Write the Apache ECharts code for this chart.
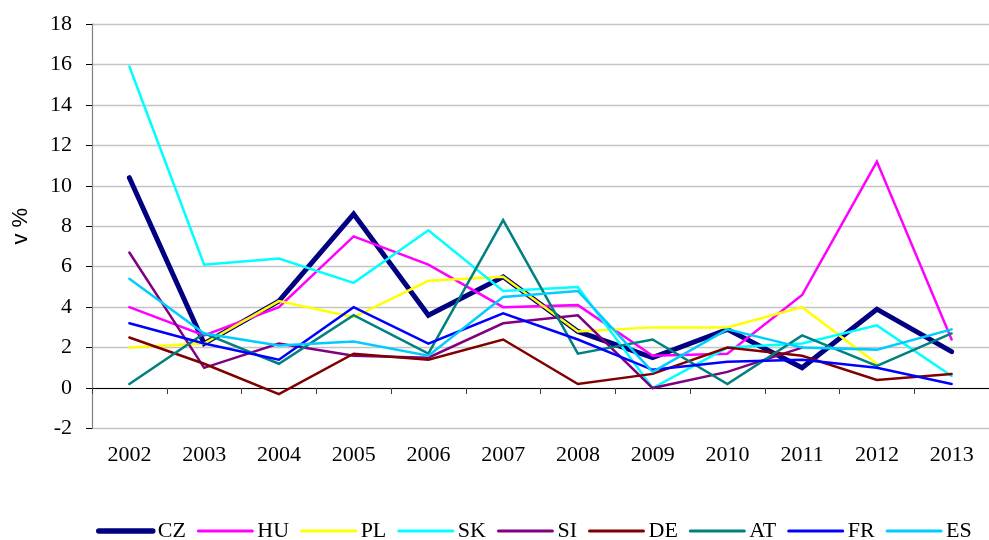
<!DOCTYPE html>
<html>
<head>
<meta charset="utf-8">
<script src="https://cdn.jsdelivr.net/npm/echarts@6/dist/echarts.min.js"></script>
<style>
  html, body { margin: 0; padding: 0; background: #fff; }
  #chart { width: 989px; height: 540px; }
</style>
</head>
<body>
<div id="chart"></div>
<script>
// Years on the category axis
const years = ['2002', '2003', '2004', '2005', '2006', '2007', '2008', '2009', '2010', '2011', '2012', '2013'];

// Annual rates per country, in %
const CZ = [10.4, 2.2, 4.3, 8.6, 3.6, 5.5, 2.8, 1.5, 2.9, 1.0, 3.9, 1.8];
const HU = [4.0, 2.6, 4.0, 7.5, 6.1, 4.0, 4.1, 1.6, 1.7, 4.6, 11.2, 2.4];
const PL = [2.0, 2.2, 4.3, 3.5, 5.3, 5.5, 2.8, 3.0, 3.0, 4.0, 1.2, null];
const SK = [15.9, 6.1, 6.4, 5.2, 7.8, 4.8, 5.0, 0.0, 2.0, 2.2, 3.1, 0.6];
const SI = [6.7, 1.0, 2.2, 1.6, 1.5, 3.2, 3.6, 0.0, 0.8, 2.0, null, null];
const DE = [2.5, 1.2, -0.3, 1.7, 1.4, 2.4, 0.2, 0.7, 2.0, 1.6, 0.4, 0.7];
const AT = [0.2, 2.7, 1.2, 3.6, 1.7, 8.3, 1.7, 2.4, 0.2, 2.6, 1.1, 2.7];
const FR = [3.2, 2.2, 1.4, 4.0, 2.2, 3.7, 2.4, 0.9, 1.3, 1.4, 1.0, 0.2];
const ES = [5.4, 2.7, 2.1, 2.3, 1.6, 4.5, 4.8, 0.8, 2.9, 2.0, 1.9, 2.9];

// Value-axis range
const yMin = -2, yMax = 18, yStep = 2;

const seriesDefs = [
  { name: 'CZ', data: CZ, color: '#000080', width: 5 },
  { name: 'HU', data: HU, color: '#FF00FF', width: 2.5 },
  { name: 'PL', data: PL, color: '#FFFF00', width: 2.5 },
  { name: 'SK', data: SK, color: '#00FFFF', width: 2.5 },
  { name: 'SI', data: SI, color: '#800080', width: 2.5 },
  { name: 'DE', data: DE, color: '#800000', width: 2.5 },
  { name: 'AT', data: AT, color: '#008080', width: 2.5 },
  { name: 'FR', data: FR, color: '#0000FF', width: 2.5 },
  { name: 'ES', data: ES, color: '#00CCFF', width: 2.5 }
];

const serif = '"Liberation Serif", "Times New Roman", serif';

const chart = echarts.init(document.getElementById('chart'), null, { renderer: 'canvas' });

chart.setOption({
  animation: false,
  backgroundColor: '#ffffff',
  grid: { left: 92, top: 24, width: 903.6, height: 404.5, containLabel: false },
  legend: {
    left: 96,
    top: 520,
    padding: 0,
    itemWidth: 54,
    itemHeight: 14,
    itemGap: 11,
    // line-only keys: the marker dot is made transparent
    itemStyle: { opacity: 0, borderWidth: 0 },
    textStyle: { fontFamily: serif, fontSize: 22, color: '#000' },
    data: seriesDefs.map(s => ({
      name: s.name,
      lineStyle: { color: s.color, width: s.width + 0.5, cap: 'round' }
    }))
  },
  xAxis: {
    type: 'category',
    data: years,
    boundaryGap: true,
    axisLine: { onZero: true, lineStyle: { color: '#000', width: 1.2 } },
    axisTick: { show: true, length: 6, inside: false, lineStyle: { color: '#404040' } },
    axisLabel: { margin: 16, fontFamily: serif, fontSize: 22, color: '#000' },
    splitLine: { show: false }
  },
  yAxis: {
    type: 'value',
    min: yMin,
    max: yMax,
    interval: yStep,
    name: 'v %',
    nameLocation: 'middle',
    nameGap: 60,
    nameRotate: 90,
    nameTextStyle: { fontFamily: '"Liberation Sans", Arial, sans-serif', fontSize: 22, color: '#000' },
    axisLine: { show: true, lineStyle: { color: '#808080', width: 1.2 } },
    axisTick: { show: true, length: 6, lineStyle: { color: '#000' } },
    axisLabel: { margin: 20, fontFamily: serif, fontSize: 22, color: '#000' },
    splitLine: { show: true, lineStyle: { color: '#c4c4c4', width: 1.3 } }
  },
  series: seriesDefs.map(s => ({
    name: s.name,
    type: 'line',
    data: s.data,
    symbol: 'none',
    showSymbol: false,
    connectNulls: false,
    color: s.color,
    lineStyle: { color: s.color, width: s.width, cap: 'round', join: 'miter' },
    itemStyle: { color: s.color }
  }))
});
</script>
</body>
</html>
